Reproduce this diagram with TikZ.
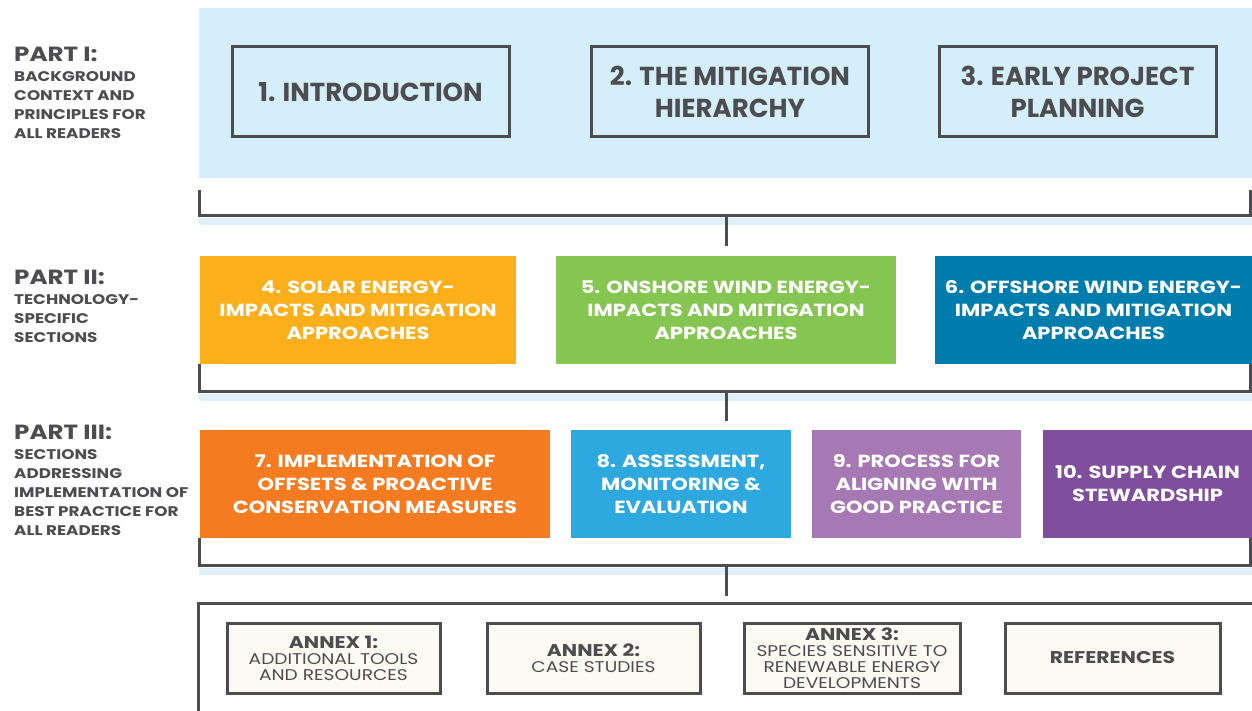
\documentclass[tikz,border=0pt]{standalone}
\usepackage{fontspec}
\setmainfont{Poppins}
\newfontfamily\widefont[FakeStretch=1.2]{Poppins}
\usetikzlibrary{positioning}
\definecolor{ink}{HTML}{4D4D4F}
\definecolor{skyband}{HTML}{D4EEFA}
\definecolor{shadowband}{HTML}{E2F1F8}
\definecolor{solar}{HTML}{FBAF1A}
\definecolor{onshore}{HTML}{85C552}
\definecolor{offshore}{HTML}{007DAD}
\definecolor{offsets}{HTML}{F47B20}
\definecolor{assess}{HTML}{2EA9E0}
\definecolor{process}{HTML}{A679B5}
\definecolor{supply}{HTML}{7F4F9E}
\definecolor{annexfill}{HTML}{FBFAF3}
\tikzstyle{part}=[anchor=north west, inner sep=0, text=ink, font=\widefont\bfseries\fontsize{20.5}{24}\selectfont]
\tikzstyle{partnote}=[anchor=north west, inner sep=0, text=ink, align=left, font=\widefont\bfseries\fontsize{14}{19}\selectfont]
\tikzstyle{chapter}=[draw=ink, line width=3, fill=skyband, text=ink, align=center, minimum width=277, minimum height=90, font=\bfseries\fontsize{26}{32}\selectfont]
\tikzstyle{section}=[text=white, align=center, minimum height=108, font=\widefont\bfseries\fontsize{17.5}{23}\selectfont]
\tikzstyle{annex}=[draw=ink, line width=3, fill=annexfill, text=ink, align=center, minimum width=213, minimum height=70, font=\widefont\fontsize{15.5}{16}\selectfont]
\tikzstyle{annexhead}=[font=\widefont\bfseries\fontsize{17}{16}\selectfont]
\tikzstyle{bracket}=[draw=ink, line width=3]
\tikzstyle{shadow}=[draw=shadowband, line width=7]

\begin{document}
\begin{tikzpicture}[x=1pt, y=-1pt]
\useasboundingbox (0,0) rectangle (1252,711);
\fill[skyband] (199,8) rectangle (1252,178);

\draw (14,47) node[part] (P1) {PART I:};
\node[partnote, below=9pt of P1.south west, anchor=north west] (P1n) {BACKGROUND\\CONTEXT AND\\PRINCIPLES FOR\\ALL READERS};
\draw (14,270) node[part] (P2) {PART II:};
\node[partnote, below=9pt of P2.south west, anchor=north west] (P2n) {TECHNOLOGY-\\SPECIFIC\\SECTIONS};
\draw (14,425) node[part] (P3) {PART III:};
\node[partnote, below=9pt of P3.south west, anchor=north west] (P3n) {SECTIONS\\ADDRESSING\\IMPLEMENTATION OF\\BEST PRACTICE FOR\\ALL READERS};

\draw (370.5,92) node[chapter] (C1) {1. INTRODUCTION};
\draw (730,92) node[chapter] (C2) {2. THE MITIGATION\\HIERARCHY};
\draw (1077.5,92) node[chapter] (C3) {3. EARLY PROJECT\\PLANNING};

\draw (358,310) node[section, fill=solar, minimum width=316] (C4) {4. SOLAR ENERGY-\\IMPACTS AND MITIGATION\\APPROACHES};
\draw (726,310) node[section, fill=onshore, minimum width=340] (C5) {5. ONSHORE WIND ENERGY-\\IMPACTS AND MITIGATION\\APPROACHES};
\draw (1093.5,310) node[section, fill=offshore, minimum width=317] (C6) {6. OFFSHORE WIND ENERGY-\\IMPACTS AND MITIGATION\\APPROACHES};

\draw (375,484) node[section, fill=offsets, minimum width=350] (C7) {7. IMPLEMENTATION OF\\OFFSETS \& PROACTIVE\\CONSERVATION MEASURES};
\draw (681,484) node[section, fill=assess, minimum width=220] (C8) {8. ASSESSMENT,\\MONITORING \&\\EVALUATION};
\draw (916.5,484) node[section, fill=process, minimum width=209] (C9) {9. PROCESS FOR\\ALIGNING WITH\\GOOD PRACTICE};
\draw (1147.5,484) node[section, fill=supply, minimum width=209] (C10) {10. SUPPLY CHAIN\\STEWARDSHIP};

\draw (333.5,658) node[annex] (A1) {{\bfseries\fontsize{17}{16}\selectfont ANNEX 1:}\\ADDITIONAL TOOLS\\AND RESOURCES};
\draw (593.5,658) node[annex] (A2) {{\bfseries\fontsize{17}{16}\selectfont ANNEX 2:}\\CASE STUDIES};
\draw (852,658) node[annex, minimum width=216] (A3) {{\bfseries\fontsize{17}{16}\selectfont ANNEX 3:}\\SPECIES SENSITIVE TO\\RENEWABLE ENERGY\\DEVELOPMENTS};
\draw (1112.5,658) node[annex, annexhead, minimum width=215] (A4) {REFERENCES};

\coordinate (B1l) at (199,190);
\coordinate (B1r) at (1250,190);
\coordinate (B1m) at (726,216);
\coordinate (B1t) at (726,246);
\coordinate (B2l) at (199,364);
\coordinate (B2r) at (1250,364);
\coordinate (B2m) at (726,391);
\coordinate (B2t) at (726,421);
\coordinate (B3l) at (199,538);
\coordinate (B3r) at (1250,538);
\coordinate (B3m) at (726,565);
\coordinate (B3t) at (726,596);
\coordinate (Fl) at (198,711);
\coordinate (Fr) at (1252,603);

\draw[shadow] (199,222) -- (1252,222);
\draw[shadow] (199,397) -- (1252,397);
\draw[shadow] (199,571) -- (1252,571);
\draw[bracket] (B1l) |- (B1m) -| (B1r);
\draw[bracket] (B1m) -- (B1t);
\draw[bracket] (B2l) |- (B2m) -| (B2r);
\draw[bracket] (B2m) -- (B2t);
\draw[bracket] (B3l) |- (B3m) -| (B3r);
\draw[bracket] (B3m) -- (B3t);
\draw[bracket] (Fl) |- (Fr);
\end{tikzpicture}
\end{document}
